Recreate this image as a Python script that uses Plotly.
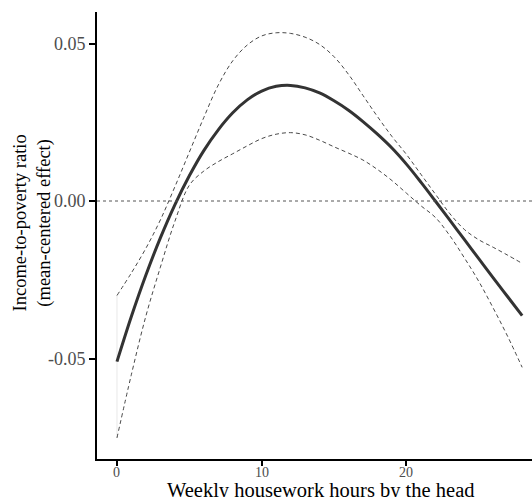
import plotly.graph_objects as go

# Weekly housework hours by the household head
hours = list(range(0, 29))

# Smoothed mean-centered effect on the income-to-poverty ratio
effect = [-0.0510, -0.0366, -0.0235, -0.0117, -0.0012, 0.0080, 0.0160, 0.0226,
          0.0280, 0.0321, 0.0349, 0.0364, 0.0367, 0.0359, 0.0343, 0.0318,
          0.0288, 0.0252, 0.0212, 0.0168, 0.0117, 0.0060, 0.0000, -0.0061,
          -0.0122, -0.0183, -0.0244, -0.0304, -0.0364]

# Upper and lower confidence bounds
upper = [-0.0300, -0.0228, -0.0150, -0.0060, 0.0045, 0.0155, 0.0265, 0.0368,
         0.0445, 0.0495, 0.0524, 0.0534, 0.0532, 0.0520, 0.0497, 0.0458,
         0.0402, 0.0335, 0.0268, 0.0205, 0.0148, 0.0085, 0.0022, -0.0040,
         -0.0090, -0.0123, -0.0147, -0.0172, -0.0198]
lower = [-0.0752, -0.0550, -0.0365, -0.0210, -0.0065, 0.0050, 0.0095, 0.0125,
         0.0150, 0.0175, 0.0198, 0.0212, 0.0217, 0.0210, 0.0193, 0.0172,
         0.0152, 0.0130, 0.0100, 0.0065, 0.0025, -0.0015, -0.0052, -0.0110,
         -0.0180, -0.0255, -0.0340, -0.0430, -0.0528]

x_ticks = [0, 10, 20]
x_tick_text = ["0", "10", "20"]
y_ticks = [-0.05, 0.00, 0.05]
y_tick_text = ["-0.05", "0.00", "0.05"]

FONT = "Liberation Serif"
INK = "#333333"

fig = go.Figure()

# thin edge of the confidence band at the first observation
fig.add_trace(go.Scatter(x=[hours[0], hours[0]], y=[lower[0], upper[0]], mode="lines",
                         line=dict(color="#d9d9d9", width=0.6), hoverinfo="skip",
                         showlegend=False))

fig.add_trace(go.Scatter(x=hours, y=upper, mode="lines",
                         line=dict(color=INK, width=0.9, dash="4px,3px", shape="spline", smoothing=1),
                         showlegend=False))
fig.add_trace(go.Scatter(x=hours, y=lower, mode="lines",
                         line=dict(color=INK, width=0.9, dash="4px,3px", shape="spline", smoothing=1),
                         showlegend=False))
fig.add_trace(go.Scatter(x=hours, y=effect, mode="lines",
                         line=dict(color=INK, width=3, shape="spline", smoothing=1),
                         showlegend=False))

# reference line at zero
fig.add_hline(y=0, line=dict(color="#555555", width=1, dash="dot"))

# x tick labels sit tight under the tick marks
x_labels = [dict(text=t, x=v, xref="x", y=0, yref="paper", yanchor="middle", xanchor="center",
                 yshift=-13, showarrow=False, font=dict(family=FONT, size=14, color="#4d4d4d"))
            for v, t in zip(x_ticks, x_tick_text)]

fig.update_layout(
    width=532, height=497,
    margin=dict(l=97, r=0, t=12, b=38),
    paper_bgcolor="white", plot_bgcolor="white",
    font=dict(family=FONT, color="#000000"),
    xaxis=dict(range=[-1.38, 28.68], tickvals=x_ticks, showticklabels=False,
               showgrid=False, zeroline=False,
               showline=True, linecolor="black", linewidth=2,
               ticks="outside", ticklen=5, tickwidth=2, tickcolor="black"),
    yaxis=dict(range=[-0.0819, 0.0600], tickvals=y_ticks, ticktext=y_tick_text,
               showgrid=False, zeroline=False,
               showline=True, linecolor="black", linewidth=2,
               ticks="outside", ticklen=6, tickwidth=2, tickcolor="black",
               tickfont=dict(family=FONT, size=18, color="#4d4d4d")),
    annotations=x_labels + [
        dict(text="Weekly housework hours by the head", xref="paper", yref="paper",
             x=0.513, y=0, xanchor="center", yanchor="middle", yshift=-31,
             showarrow=False, font=dict(family=FONT, size=20.5, color="black")),
        dict(text="Income-to-poverty ratio<br>(mean-centered effect)", xref="paper", yref="paper",
             x=0, y=0.528, xanchor="center", yanchor="middle", xshift=-64.5,
             textangle=-90, showarrow=False,
             font=dict(family=FONT, size=18.5, color="black")),
    ],
)

fig.write_html("out.html")
